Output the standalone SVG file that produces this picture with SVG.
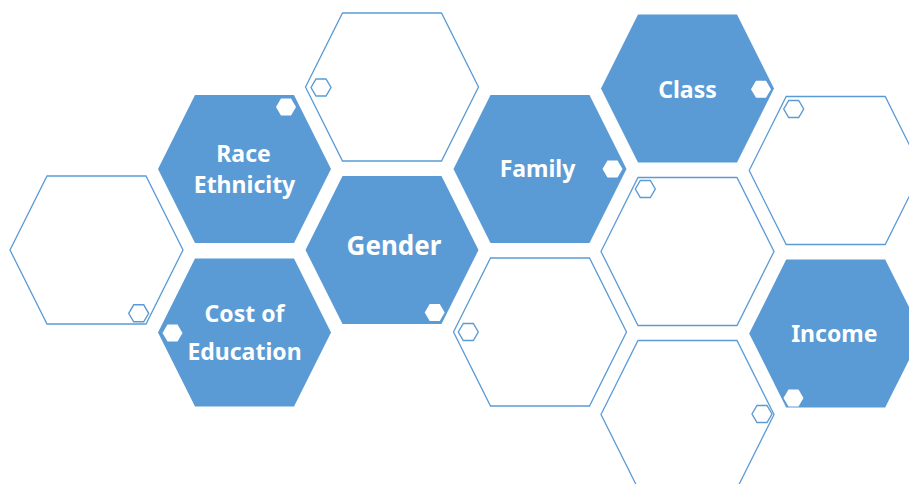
<svg xmlns="http://www.w3.org/2000/svg" width="909" height="484" viewBox="0 0 909 484">
  <defs>
    <style>
      .fill { fill: #5B9BD5; stroke: none; }
      .line { fill: #FFFFFF; stroke: #5B9BD5; stroke-width: 1.3; }
      .dot { fill: #FFFFFF; stroke: none; }
      .odot { fill: #FFFFFF; stroke: #5B9BD5; stroke-width: 1.4; }
      .lbl { font-family: "Noto Sans", "Open Sans", sans-serif; font-weight: bold; font-size: 23px; fill: #FFFFFF; text-anchor: middle; }
    </style>
    <polygon id="hex" points="-86.5,0 -49.5,-74 49.5,-74 86.5,0 49.5,74 -49.5,74"/>
    <polygon id="sh" points="-10,0 -5,-8.5 5,-8.5 10,0 5,8.5 -5,8.5"/>
  </defs>
  <rect width="909" height="484" fill="#FFFFFF"/>

  <g id="outline-left">
    <use href="#hex" class="line" x="96.5" y="250"/>
    <use href="#sh" class="odot" x="138.7" y="313.3"/>
  </g>
  <g id="race-ethnicity">
    <use href="#hex" class="fill" x="244.5" y="169"/>
    <use href="#sh" class="dot" x="286" y="107"/>
    <text class="lbl" x="243.5" y="161.5">Race</text>
    <text class="lbl" x="244.5" y="192.5">Ethnicity</text>
  </g>
  <g id="cost-of-education">
    <use href="#hex" class="fill" x="244.5" y="332.5"/>
    <use href="#sh" class="dot" x="172.5" y="333"/>
    <text class="lbl" x="244.5" y="321.5">Cost of</text>
    <text class="lbl" x="244.5" y="360">Education</text>
  </g>
  <g id="outline-top">
    <use href="#hex" class="line" x="392" y="87"/>
    <use href="#sh" class="odot" x="321" y="87.5"/>
  </g>
  <g id="gender">
    <use href="#hex" class="fill" x="392" y="250"/>
    <use href="#sh" class="dot" x="434.7" y="312.5"/>
    <text class="lbl" x="394" y="255" style="font-size:26px">Gender</text>
  </g>
  <g id="family">
    <use href="#hex" class="fill" x="540" y="169"/>
    <use href="#sh" class="dot" x="612.5" y="169"/>
    <text class="lbl" x="537.5" y="177">Family</text>
  </g>
  <g id="outline-mid-low">
    <use href="#hex" class="line" x="540" y="332"/>
    <use href="#sh" class="odot" x="468.3" y="332"/>
  </g>
  <g id="class">
    <use href="#hex" class="fill" x="687.5" y="88.5"/>
    <use href="#sh" class="dot" x="761" y="89.3"/>
    <text class="lbl" x="687.5" y="97.5">Class</text>
  </g>
  <g id="outline-center">
    <use href="#hex" class="line" x="687.5" y="251.5"/>
    <use href="#sh" class="odot" x="645.3" y="189"/>
  </g>
  <g id="outline-bottom">
    <use href="#hex" class="line" x="687.5" y="414.5"/>
    <use href="#sh" class="odot" x="762" y="414"/>
  </g>
  <g id="outline-right">
    <use href="#hex" class="line" x="835.7" y="170.5"/>
    <use href="#sh" class="odot" x="793.7" y="109"/>
  </g>
  <g id="income">
    <use href="#hex" class="fill" x="835.7" y="333.5"/>
    <use href="#sh" class="dot" x="793.5" y="398"/>
    <text class="lbl" x="834.3" y="342.3">Income</text>
  </g>
  <g id="connectors"/>
</svg>
